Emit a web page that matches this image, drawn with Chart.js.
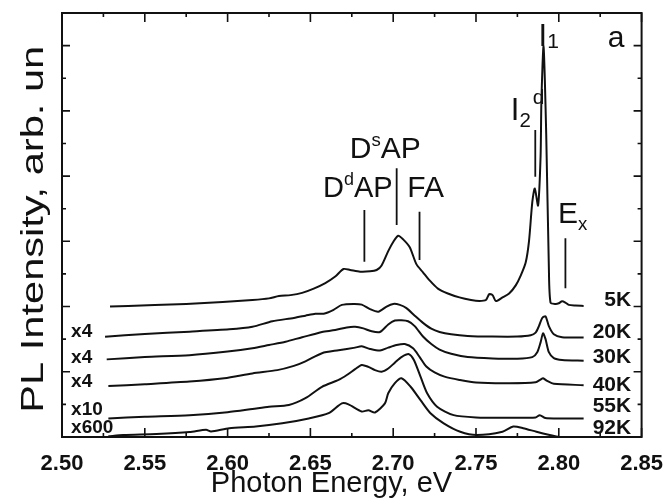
<!DOCTYPE html>
<html>
<head>
<meta charset="utf-8">
<script src="https://cdn.jsdelivr.net/npm/chart.js@4.4.1/dist/chart.umd.min.js"></script>
<style>
  html, body { margin: 0; padding: 0; background: #fff; }
  #wrap { width: 669px; height: 498px; }
</style>
</head>
<body>
<div id="wrap"><canvas id="chart"></canvas></div>
<script>
// PL spectra, photon energy (eV) vs intensity (arb. units, stacked)
const e5K = [2.529,2.540,2.556,2.575,2.597,2.615,2.625,2.631,2.638,2.645,2.652,2.659,2.665,2.670,2.674,2.680,2.686,2.690,2.693,2.697,2.700,2.703,2.706,2.710,2.714,2.718,2.722,2.727,2.733,2.740,2.747,2.752,2.756,2.758,2.760,2.762,2.766,2.770,2.774,2.777,2.780,2.782,2.784,2.7855,2.7875,2.789,2.7895,2.7908,2.7924,2.794,2.795,2.798,2.800,2.802,2.804,2.806,2.810,2.815];
const i5K = [4.00,4.02,4.05,4.08,4.14,4.20,4.25,4.32,4.35,4.42,4.55,4.72,4.92,5.15,5.12,5.07,5.08,5.12,5.26,5.70,5.98,6.17,6.06,5.82,5.30,5.05,4.80,4.55,4.40,4.28,4.20,4.17,4.20,4.38,4.35,4.17,4.28,4.40,4.65,4.95,5.35,6.00,7.20,7.62,7.10,8.60,10.3,11.97,9.3,5.2,4.12,4.08,4.10,4.16,4.12,4.05,4.03,4.02];

const e20K = [2.526,2.550,2.577,2.601,2.615,2.627,2.640,2.647,2.653,2.658,2.664,2.669,2.676,2.681,2.686,2.691,2.696,2.700,2.704,2.708,2.713,2.718,2.723,2.728,2.735,2.745,2.760,2.775,2.783,2.786,2.788,2.790,2.792,2.794,2.797,2.802,2.815];
const i20K = [3.07,3.16,3.23,3.30,3.38,3.55,3.65,3.72,3.78,3.78,3.90,4.05,4.08,4.06,3.92,3.84,4.00,4.08,4.05,3.95,3.72,3.50,3.32,3.22,3.15,3.10,3.08,3.08,3.12,3.20,3.40,3.65,3.70,3.40,3.15,3.06,3.05];

const e30K = [2.527,2.550,2.577,2.600,2.615,2.625,2.635,2.645,2.652,2.657,2.665,2.672,2.677,2.682,2.687,2.692,2.697,2.701,2.705,2.709,2.713,2.718,2.723,2.728,2.735,2.745,2.760,2.775,2.784,2.787,2.789,2.7905,2.792,2.794,2.797,2.802,2.815];
const i30K = [2.38,2.45,2.51,2.62,2.72,2.82,2.92,3.06,3.15,3.22,3.28,3.36,3.38,3.33,3.24,3.22,3.45,3.57,3.58,3.55,3.40,3.08,2.85,2.68,2.55,2.45,2.41,2.40,2.45,2.60,2.90,3.18,3.00,2.60,2.42,2.36,2.34];

const e40K = [2.528,2.550,2.577,2.598,2.615,2.630,2.640,2.647,2.657,2.667,2.677,2.681,2.686,2.692,2.697,2.702,2.707,2.712,2.716,2.720,2.725,2.731,2.740,2.750,2.770,2.786,2.789,2.7905,2.793,2.797,2.815];
const i40K = [1.56,1.62,1.70,1.80,1.95,2.05,2.18,2.32,2.57,2.66,2.74,2.78,2.70,2.65,2.74,2.82,2.85,2.72,2.45,2.16,1.98,1.85,1.75,1.67,1.65,1.68,1.76,1.80,1.72,1.63,1.59];

const e55K = [2.528,2.550,2.577,2.600,2.615,2.625,2.637,2.647,2.657,2.667,2.672,2.677,2.681,2.685,2.689,2.693,2.697,2.701,2.705,2.7095,2.7125,2.7165,2.7205,2.7265,2.7365,2.750,2.770,2.786,2.7885,2.792,2.800,2.815];
const i55K = [0.57,0.62,0.67,0.76,0.86,0.93,0.98,1.19,1.54,1.75,1.90,2.08,2.21,2.15,2.05,2.00,2.10,2.28,2.45,2.54,2.36,1.85,1.34,0.93,0.67,0.60,0.59,0.60,0.67,0.58,0.57,0.57];

const e92K = [2.528,2.537,2.557,2.577,2.587,2.590,2.601,2.617,2.633,2.649,2.661,2.669,2.673,2.681,2.685,2.689,2.695,2.697,2.701,2.705,2.7105,2.7165,2.7225,2.7305,2.7405,2.7505,2.766,2.7725,2.7785,2.7865,2.7945,2.800];
const i92K = [0.02,0.06,0.09,0.15,0.22,0.17,0.27,0.32,0.42,0.57,0.73,1.03,1.00,0.78,0.82,0.75,1.03,1.34,1.65,1.80,1.54,1.13,0.73,0.42,0.16,0.06,0.16,0.32,0.27,0.16,0.06,0.0];

// temperature labels (right) and multipliers (left)
const tempLabels = ["5K", "20K", "30K", "40K", "55K", "92K"];
const tempLabelY = [4.18, 3.22, 2.44, 1.59, 0.93, 0.27];
const multLabels = ["x4", "x4", "x4", "x10", "x600"];
const multLabelY = [3.23, 2.44, 1.70, 0.83, 0.27];

// peak markers: energy, bottom, top
const markE = [2.6826, 2.7021, 2.7159, 2.7858, 2.8040];
const markLo = [5.37, 6.50, 5.43, 7.98, 4.56];
const markHi = [6.96, 8.24, 6.91, 9.41, 6.09];

const xTicks = [2.50, 2.55, 2.60, 2.65, 2.70, 2.75, 2.80, 2.85];

const FONT = "'Liberation Sans', Arial, Helvetica, sans-serif";
const INK = "#111";

const pts = (xs, ys) => xs.map((x, k) => ({ x: x, y: ys[k] }));

const spectra = [
  [e5K, i5K], [e20K, i20K], [e30K, i30K], [e40K, i40K], [e55K, i55K], [e92K, i92K]
].map(([xs, ys], k) => ({
  label: tempLabels[k],
  data: pts(xs, ys),
  borderColor: INK,
  borderWidth: 2,
  pointRadius: 0,
  tension: 0.25,
  fill: false,
}));

const markers = markE.map((e, k) => ({
  label: "mark" + k,
  data: [{ x: e, y: markLo[k] }, { x: e, y: markHi[k] }],
  borderColor: INK,
  borderWidth: 1.8,
  pointRadius: 0,
}));

// rich text pieces: [text, size factor, baseline shift in em]
function rich(ctx, parts, x, y, size) {
  let cx = x;
  parts.forEach(([t, f, shift]) => {
    ctx.font = (size * f) + "px " + FONT;
    ctx.fillText(t, cx, y + shift * size);
    cx += ctx.measureText(t).width;
  });
}

const decor = {
  id: "decor",
  afterDraw(chart) {
    const { ctx, chartArea: a, scales: { x, y } } = chart;
    ctx.save();
    ctx.strokeStyle = INK;
    ctx.fillStyle = INK;
    // frame
    ctx.lineWidth = 2;
    ctx.strokeRect(a.left, a.top, a.right - a.left, a.bottom - a.top);
    // inward ticks on x
    ctx.lineWidth = 1.6;
    for (let k = 0; k <= 14; k++) {
      const px = x.getPixelForValue(2.5 + k * 0.025);
      const len = k % 2 === 0 ? 9 : 4;
      ctx.beginPath();
      ctx.moveTo(px, a.bottom); ctx.lineTo(px, a.bottom - len);
      ctx.moveTo(px, a.top); ctx.lineTo(px, a.top + len);
      ctx.stroke();
    }
    // inward ticks on y
    for (let v = 1; v <= 12; v++) {
      const py = y.getPixelForValue(v);
      const len = v % 2 === 0 ? 8 : 4;
      ctx.beginPath();
      ctx.moveTo(a.left, py); ctx.lineTo(a.left + len, py);
      ctx.moveTo(a.right, py); ctx.lineTo(a.right - len, py);
      ctx.stroke();
    }
    // axis titles
    ctx.textAlign = "center";
    ctx.textBaseline = "alphabetic";
    ctx.font = "29px " + FONT;
    ctx.fillText("Photon Energy, eV", a.left + (a.right - a.left) * 0.465, 492);
    ctx.save();
    ctx.translate(43, a.top + (a.bottom - a.top) * 0.51);
    ctx.rotate(-Math.PI / 2);
    ctx.scale(1.3, 1);
    ctx.font = "32px " + FONT;
    ctx.fillText("PL Intensity, arb. un", 0, 0);
    ctx.restore();
    // temperature labels, right aligned
    ctx.textAlign = "right";
    ctx.textBaseline = "middle";
    ctx.font = "bold 21px " + FONT;
    tempLabels.forEach((t, k) => {
      ctx.fillText(t, x.getPixelForValue(2.8437), y.getPixelForValue(tempLabelY[k]));
    });
    ctx.textAlign = "left";
    ctx.font = "bold 19px " + FONT;
    multLabels.forEach((t, k) => {
      ctx.fillText(t, x.getPixelForValue(2.5055), y.getPixelForValue(multLabelY[k]));
    });
    // peak names
    ctx.textBaseline = "alphabetic";
    rich(ctx, [["D", 1, 0], ["d", 0.62, -0.42], ["AP", 1, 0]], x.getPixelForValue(2.6576), y.getPixelForValue(7.36), 29);
    rich(ctx, [["D", 1, 0], ["s", 0.62, -0.42], ["AP", 1, 0]], x.getPixelForValue(2.6738), y.getPixelForValue(8.55), 30);
    rich(ctx, [["FA", 1, 0]], x.getPixelForValue(2.7085), y.getPixelForValue(7.37), 30);
    rich(ctx, [["I", 1, 0], ["2", 0.66, 0.22]], x.getPixelForValue(2.7710), y.getPixelForValue(9.72), 31);
    rich(ctx, [["d", 1, 0]], x.getPixelForValue(2.7842), y.getPixelForValue(10.2), 21);
    rich(ctx, [["I", 1, 0], ["1", 0.68, 0.06]], x.getPixelForValue(2.7878), y.getPixelForValue(11.99), 31);
    rich(ctx, [["E", 1, 0], ["x", 0.62, 0.22]], x.getPixelForValue(2.7995), y.getPixelForValue(6.55), 30);
    rich(ctx, [["a", 1, 0]], x.getPixelForValue(2.8295), y.getPixelForValue(11.97), 30);
    ctx.restore();
  },
};

new Chart(document.getElementById("chart"), {
  type: "line",
  data: { datasets: [...spectra, ...markers] },
  plugins: [decor],
  options: {
    responsive: true,
    maintainAspectRatio: false,
    animation: false,
    layout: { padding: { left: 0, right: 23, top: 13, bottom: 0 } },
    plugins: { legend: { display: false }, tooltip: { enabled: false } },
    scales: {
      x: {
        type: "linear",
        min: 2.5,
        max: 2.85,
        afterFit: (s) => { s.height = 61; },
        afterBuildTicks: (s) => { s.ticks = xTicks.map((v) => ({ value: v })); },
        grid: { display: false },
        border: { display: false },
        ticks: {
          autoSkip: false,
          maxRotation: 0,
          padding: 6,
          color: INK,
          font: { family: FONT, size: 22, weight: "bold" },
          callback: (v) => v.toFixed(2),
        },
      },
      y: {
        type: "linear",
        min: 0,
        max: 13,
        afterFit: (s) => { s.width = 62; },
        grid: { display: false },
        border: { display: false },
        ticks: { display: false },
      },
    },
  },
});
</script>
</body>
</html>
